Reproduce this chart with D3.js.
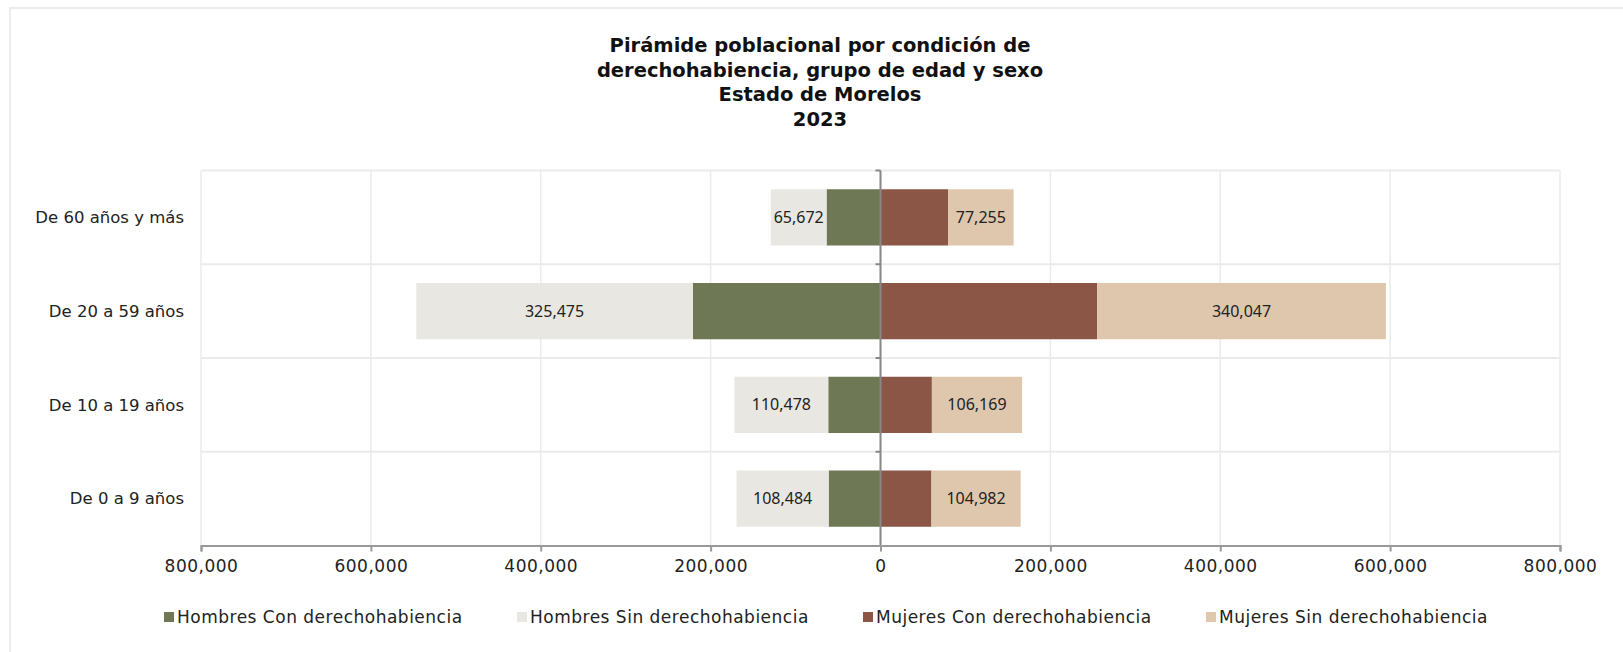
<!DOCTYPE html>
<html>
<head>
<meta charset="utf-8">
<script src="https://cdn.jsdelivr.net/npm/d3@7"></script>
<style>
  body { margin: 0; background: #fff; }
  svg { display: block; font-family: "DejaVu Sans", sans-serif; }
</style>
</head>
<body>
<div></div>
<script>
var width = 1623, height = 652;

// grupos de edad, de arriba hacia abajo
var categories = ["De 60 años y más", "De 20 a 59 años", "De 10 a 19 años", "De 0 a 9 años"];
var hombresCon = [63500, 221000, 61500, 61000];
var hombresSin = [65672, 325475, 110478, 108484];
var mujeresCon = [79500, 255000, 60500, 60000];
var mujeresSin = [77255, 340047, 106169, 104982];
var tickValues = [-800000, -600000, -400000, -200000, 0, 200000, 400000, 600000, 800000];
var seriesNames = ["Hombres Con derechohabiencia", "Hombres Sin derechohabiencia", "Mujeres Con derechohabiencia", "Mujeres Sin derechohabiencia"];
var colors = ["#6e7854", "#e8e7e2", "#8b5646", "#dfc7ad"];
var titleLines = ["Pirámide poblacional por condición de", "derechohabiencia, grupo de edad y sexo", "Estado de Morelos", "2023"];

var svg = d3.select("div").append("svg")
    .attr("width", width)
    .attr("height", height);

// borde exterior
svg.append("rect")
    .attr("x", 10).attr("y", 8)
    .attr("width", width + 20).attr("height", height + 20)
    .attr("fill", "none")
    .attr("stroke", "#ececec")
    .attr("stroke-width", 2);

var x = d3.scaleLinear()
    .domain([-800000, 800000])
    .range([201, 1560]);

var y = d3.scaleBand()
    .domain(categories)
    .range([170.5, 545.5])
    .paddingInner(0.4)
    .paddingOuter(0.2);

var top0 = y.range()[0], step = y.step();

// cuadricula
svg.append("g")
  .selectAll("line")
    .data(tickValues)
  .enter().append("line")
    .attr("x1", function(d) { return x(d); })
    .attr("x2", function(d) { return x(d); })
    .attr("y1", top0)
    .attr("y2", 545.5)
    .attr("stroke", "#ebebeb")
    .attr("stroke-width", 1.5);

svg.append("g")
  .selectAll("line")
    .data(d3.range(categories.length))
  .enter().append("line")
    .attr("x1", x(-800000))
    .attr("x2", x(800000))
    .attr("y1", function(i) { return top0 + i * step; })
    .attr("y2", function(i) { return top0 + i * step; })
    .attr("stroke", "#ebebeb")
    .attr("stroke-width", 2);

// barras
var segs = [];
categories.forEach(function(c, i) {
  segs.push({cat: c, s: 0, x0: -hombresCon[i], x1: 0});
  segs.push({cat: c, s: 1, x0: -hombresCon[i] - hombresSin[i], x1: -hombresCon[i], label: hombresSin[i]});
  segs.push({cat: c, s: 2, x0: 0, x1: mujeresCon[i]});
  segs.push({cat: c, s: 3, x0: mujeresCon[i], x1: mujeresCon[i] + mujeresSin[i], label: mujeresSin[i]});
});

svg.append("g")
  .selectAll("rect")
    .data(segs)
  .enter().append("rect")
    .attr("x", function(d) { return x(d.x0); })
    .attr("width", function(d) { return x(d.x1) - x(d.x0); })
    .attr("y", function(d) { return y(d.cat); })
    .attr("height", y.bandwidth())
    .attr("fill", function(d) { return colors[d.s]; });

svg.append("g")
  .selectAll("text")
    .data(segs.filter(function(d) { return d.label; }))
  .enter().append("text")
    .attr("x", function(d) { return x((d.x0 + d.x1) / 2); })
    .attr("y", function(d) { return y(d.cat) + y.bandwidth() / 2; })
    .attr("dy", "0.35em")
    .attr("text-anchor", "middle")
    .style("font-family", "'Noto Sans', sans-serif")
    .style("font-size", "16px")
    .style("fill", "#222")
    .text(function(d) { return d3.format(",")(d.label); });

// eje vertical central
var yAxis = svg.append("g")
    .attr("transform", "translate(" + x(0) + ",0)");
yAxis.append("line")
    .attr("y1", top0).attr("y2", 545.5)
    .attr("stroke", "#888").attr("stroke-width", 2);
yAxis.selectAll(".tk")
    .data(d3.range(categories.length))
  .enter().append("line")
    .attr("x1", -5).attr("x2", 0)
    .attr("y1", function(i) { return top0 + i * step; })
    .attr("y2", function(i) { return top0 + i * step; })
    .attr("stroke", "#888").attr("stroke-width", 2);

// etiquetas de categoria
svg.append("g")
  .selectAll("text")
    .data(categories)
  .enter().append("text")
    .attr("x", 184)
    .attr("y", function(d) { return y(d) + y.bandwidth() / 2; })
    .attr("dy", "0.35em")
    .attr("text-anchor", "end")
    .style("font-size", "16.5px")
    .style("fill", "#222")
    .text(function(d) { return d; });

// eje horizontal
var xAxis = svg.append("g")
    .attr("transform", "translate(0,545.5)")
    .call(d3.axisBottom(x)
      .tickValues(tickValues)
      .tickSize(6)
      .tickPadding(8)
      .tickFormat(function(d) { return d3.format(",")(Math.abs(d)); }));
xAxis.select(".domain").attr("stroke", "#999").attr("stroke-width", 2);
xAxis.selectAll(".tick line").attr("stroke", "#999").attr("stroke-width", 2);
xAxis.selectAll(".tick text")
    .style("font-size", "17px")
    .style("letter-spacing", "0.5px")
    .style("font-family", "'DejaVu Sans', sans-serif")
    .style("fill", "#222");

// titulo
svg.append("g")
  .selectAll("text")
    .data(titleLines)
  .enter().append("text")
    .attr("x", 820)
    .attr("y", function(d, i) { return 52 + i * 24.5; })
    .attr("text-anchor", "middle")
    .style("font-size", "19.5px")
    .style("font-weight", "bold")
    .style("fill", "#111")
    .text(function(d) { return d; });

// leyenda
var legendX = [164, 517, 863, 1206];
var legend = svg.append("g")
  .selectAll("g")
    .data(seriesNames)
  .enter().append("g")
    .attr("transform", function(d, i) { return "translate(" + legendX[i] + ",617)"; });
legend.append("rect")
    .attr("x", 0).attr("y", -5)
    .attr("width", 10).attr("height", 10)
    .attr("fill", function(d, i) { return colors[i]; });
legend.append("text")
    .attr("x", 13)
    .attr("dy", "0.35em")
    .style("font-size", "17px")
    .style("letter-spacing", "0.5px")
    .style("fill", "#222")
    .text(function(d) { return d; });
</script>
</body>
</html>
